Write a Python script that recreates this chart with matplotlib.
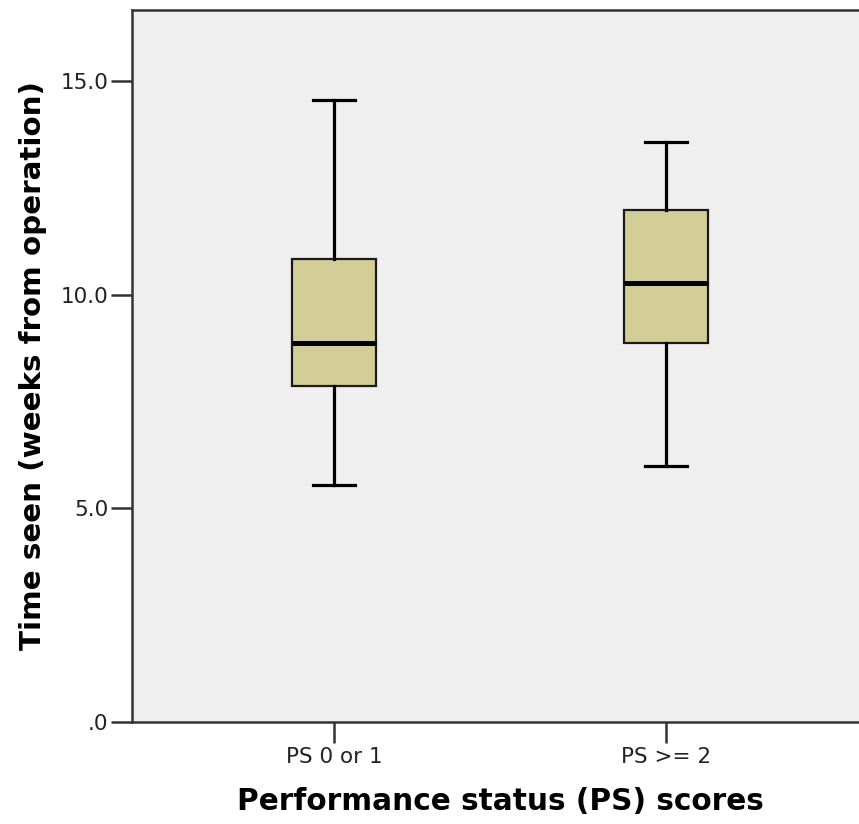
import numpy as np
import matplotlib.pyplot as plt

# Boxplot Zeit nach OP nach Performance Status
groups = ["PS 0 or 1", "PS >= 2"]
whislo = [5.55, 6.0]
q1 = [7.87, 8.88]
med = [8.88, 10.28]
q3 = [10.84, 11.99]
whishi = [14.57, 13.58]

yticks = [0, 5, 10, 15]
ytick_labels = [".0", "5.0", "10.0", "15.0"]

stats = []
for i in range(len(groups)):
    stats.append({"label": groups[i], "whislo": whislo[i], "q1": q1[i], "med": med[i],
                  "q3": q3[i], "whishi": whishi[i], "fliers": []})

fig = plt.figure(figsize=(8.59, 8.24), dpi=100)
ax = fig.add_axes([0.1537, 0.1238, 0.857, 0.864])
ax.set_facecolor("#efefef")

ax.bxp(stats, positions=[1, 2], widths=0.253, capwidths=0.128, patch_artist=True,
       showfliers=False,
       boxprops=dict(facecolor="#d3ce98", edgecolor="#1a1a1a", linewidth=1.6),
       medianprops=dict(color="black", linewidth=3.6, solid_capstyle="butt"),
       whiskerprops=dict(color="black", linewidth=2.3),
       capprops=dict(color="black", linewidth=2.3))

ax.set_xlim(0.392, 2.608)
ax.set_ylim(0, 16.67)
ax.set_yticks(yticks)
ax.set_yticklabels(ytick_labels)
ax.set_xticks([1, 2])
ax.set_xticklabels(groups)

for s in ["left", "bottom", "top"]:
    ax.spines[s].set_color("#333333")
    ax.spines[s].set_linewidth(1.8)
ax.spines["right"].set_visible(False)

ax.tick_params(axis="both", direction="out", length=15, width=1.8, color="#333333",
               labelsize=15.5, labelcolor="#222222", pad=3)
ax.tick_params(axis="y", pad=2)

ax.set_ylabel("Time seen (weeks from operation)", fontsize=21.2, fontweight="bold",
              labelpad=10)
ax.set_xlabel("Performance status (PS) scores", fontsize=21.3, fontweight="bold")
ax.xaxis.set_label_coords(0.5, -0.091)

fig.savefig("out.png", dpi=100)
